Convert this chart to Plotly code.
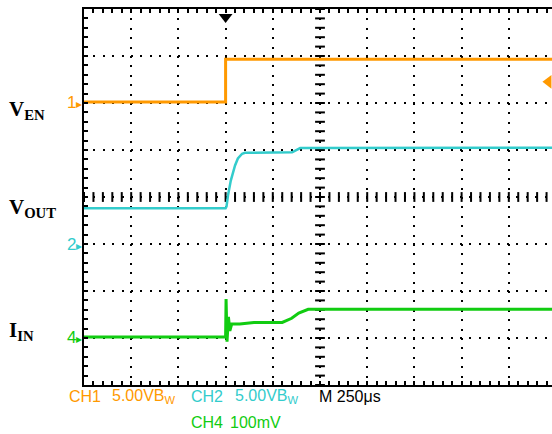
import numpy as np
import plotly.graph_objects as go

# time axis in divisions (trigger at 3.0 div), levels in divisions from bottom
ch1_t = [0.0, 3.0, 3.0, 9.95]
ch1_v = [6.02, 6.02, 6.93, 6.93]

ch2_t = [0.0, 3.0, 3.02, 3.05, 3.11, 3.2, 3.26, 3.35, 3.41, 4.41, 4.58, 9.95]
ch2_v = [3.76, 3.76, 3.8, 4.03, 4.35, 4.67, 4.82, 4.92, 4.94, 4.95, 5.04, 5.05]

ch4_t = [0.0, 3.0, 3.01, 3.03, 3.06, 3.09, 3.13, 3.3, 3.6, 4.2, 4.4, 4.55, 4.75, 9.95]
ch4_v = [1.02, 1.02, 1.83, 0.92, 1.45, 1.15, 1.3, 1.3, 1.33, 1.33, 1.42, 1.53, 1.61, 1.61]

ORANGE = '#FF9900'
CYAN = '#33CCCC'
GREEN = '#11CC11'

W, H = 552, 434
L, T, B = 84, 9, 49
XMAX = (W - L) / 47.2


def px_x(px):
    return (px - L) / (W - L)


def px_y(py):
    return (H - B - py) / (H - B - T)


fig = go.Figure()

# graticule centre lines (short tick marks every 0.2 div)
ticks = np.arange(0, 10.01, 0.2)
fig.add_trace(go.Scatter(
    x=ticks, y=[4] * len(ticks), mode='markers',
    marker={'symbol': 'line-ns', 'size': 7, 'line': {'width': 2, 'color': 'black'}},
    hoverinfo='skip', showlegend=False,
))
yticks = np.arange(0, 8.01, 0.2)
fig.add_trace(go.Scatter(
    x=[5] * len(yticks), y=yticks, mode='markers',
    marker={'symbol': 'line-ew', 'size': 7, 'line': {'width': 2, 'color': 'black'}},
    hoverinfo='skip', showlegend=False,
))

fig.add_trace(go.Scatter(x=ch1_t, y=ch1_v, mode='lines', line={'color': ORANGE, 'width': 3}, showlegend=False))
fig.add_trace(go.Scatter(x=ch2_t, y=ch2_v, mode='lines', line={'color': CYAN, 'width': 2.5}, showlegend=False))
fig.add_trace(go.Scatter(x=ch4_t, y=ch4_v, mode='lines', line={'color': GREEN, 'width': 3}, showlegend=False))

# trigger markers
fig.add_trace(go.Scatter(
    x=[3.0], y=[7.83], mode='markers', cliponaxis=False,
    marker={'symbol': 'triangle-down', 'size': 12, 'color': 'black'}, showlegend=False,
))
fig.add_trace(go.Scatter(
    x=[9.84], y=[6.45], mode='markers', cliponaxis=False,
    marker={'symbol': 'triangle-left', 'size': 12, 'color': ORANGE}, showlegend=False,
))

axis_common = dict(
    showline=True, linecolor='black', linewidth=2,
    ticks='inside', ticklen=4, tickwidth=2, tickcolor='black',
    showticklabels=False, dtick=1, tick0=0,
    showgrid=True, gridcolor='black', gridwidth=2,
    minor={'dtick': 0.2, 'ticks': 'inside', 'ticklen': 4, 'tickwidth': 2,
           'tickcolor': 'black', 'showgrid': False},
    zeroline=False, fixedrange=True,
)
fig.update_xaxes(range=[0, XMAX], mirror='ticks', griddash='2px,7.4px', **axis_common)
fig.update_yaxes(range=[0, 8], griddash='2px,7.4px', **axis_common)

annotations = []
# channel ground markers
for label, lvl, col in [('1', 6.02, ORANGE), ('2', 3.0, CYAN), ('4', 1.02, GREEN)]:
    annotations.append(dict(
        xref='paper', yref='y', x=0, y=lvl, xanchor='right', yanchor='middle',
        text=label + "<span style='font-size:12px'>▸</span>", showarrow=False,
        font={'family': 'Liberation Sans', 'size': 17, 'color': col},
    ))

# signal names
serif = {'family': 'Liberation Serif', 'size': 21, 'color': 'black'}
for label, py in [('V<sub>EN</sub>', 110), ('V<sub>OUT</sub>', 208), ('I<sub>IN</sub>', 331)]:
    annotations.append(dict(
        xref='paper', yref='paper', x=px_x(7), y=px_y(py), xanchor='left', yanchor='middle',
        text='<b>' + label + '</b>', showarrow=False, font=serif,
    ))

# scope readout
narrow = 'Liberation Sans Narrow, Liberation Sans'
readout = [
    ('CH1', 67, 396, ORANGE), ('5.00VB<sub>W</sub>', 110, 396, ORANGE),
    ('CH2', 189, 396, CYAN), ('5.00VB<sub>W</sub>', 233, 396, CYAN),
    ('M 250μs', 317, 396, 'black'),
    ('CH4', 189, 422, GREEN), ('100mV', 228, 422, GREEN),
]
for text, px, py, col in readout:
    annotations.append(dict(
        xref='paper', yref='paper', x=px_x(px), y=px_y(py), xanchor='left', yanchor='middle',
        text=text, showarrow=False, font={'family': narrow, 'size': 16, 'color': col},
    ))

fig.update_layout(
    width=W, height=H,
    margin={'l': L, 'r': 0, 't': T, 'b': B, 'pad': 0},
    paper_bgcolor='white', plot_bgcolor='white',
    annotations=annotations,
    showlegend=False,
)

fig.write_html('out.html', config={'displayModeBar': False},
               post_script="document.body.style.margin='0px';")
